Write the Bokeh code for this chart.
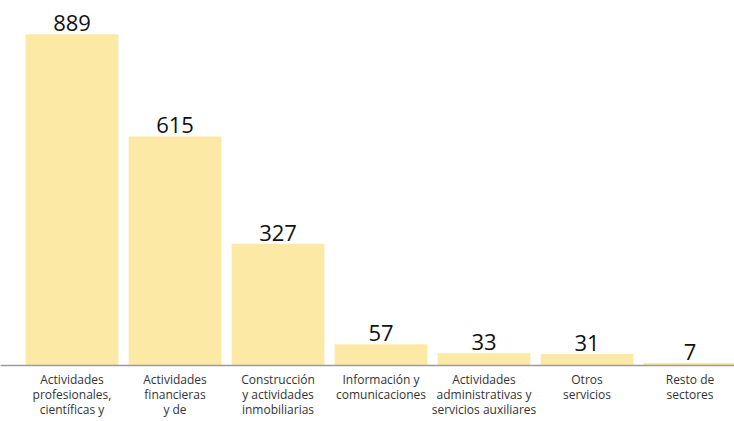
from bokeh.plotting import figure
from bokeh.models import ColumnDataSource, Range1d, FixedTicker
from bokeh.embed import file_html
from bokeh.resources import INLINE
from bokeh.core.properties import value

categories = [
    "Actividades\nprofesionales,\ncientíficas y",
    "Actividades\nfinancieras\ny de",
    "Construcción\ny actividades\ninmobiliarias",
    "Información y\ncomunicaciones",
    "Actividades\nadministrativas y\nservicios auxiliares",
    "Otros\nservicios",
    "Resto de\nsectores",
]
values = [889, 615, 327, 57, 33, 31, 7]

xs = [i + 0.5 for i in range(len(values))]
labels = [str(v) for v in values]
src = ColumnDataSource(dict(x=xs, top=values, label=labels))

W, H = 734, 421
p = figure(width=W, height=H, output_backend="svg", toolbar_location=None,
           x_range=Range1d(-20 / 103, -20 / 103 + W / 103),
           y_range=Range1d(0, 367 / 0.3746),
           min_border_left=0, min_border_right=0, min_border_top=0,
           min_border_bottom=H - 367)
p.outline_line_color = None
p.background_fill_color = "white"
p.border_fill_color = "white"
p.grid.visible = False
p.yaxis.visible = False

p.vbar(x="x", top="top", bottom=0, width=0.9, source=src,
       fill_color="#FDE9A6", line_color=None)

p.text(x="x", y="top", text="label", source=src, text_align="center",
       text_baseline="bottom", y_offset=-3, text_font=value("Open Sans"),
       text_font_size="22px", text_color="#111111")

ax = p.xaxis[0]
ax.ticker = FixedTicker(ticks=xs)
ax.major_label_overrides = {x: c for x, c in zip(xs, categories)}
ax.major_tick_line_color = None
ax.minor_tick_line_color = None
ax.major_tick_out = 0
ax.major_tick_in = 0
ax.axis_line_color = "#9A9A9A"
ax.axis_line_width = 1.5
ax.major_label_standoff = 5
ax.major_label_text_font = "Open Sans"
ax.major_label_text_font_size = "12px"
ax.major_label_text_color = "#333333"
ax.major_label_text_line_height = 0.91

open("out.html", "w").write(file_html(p, INLINE))
